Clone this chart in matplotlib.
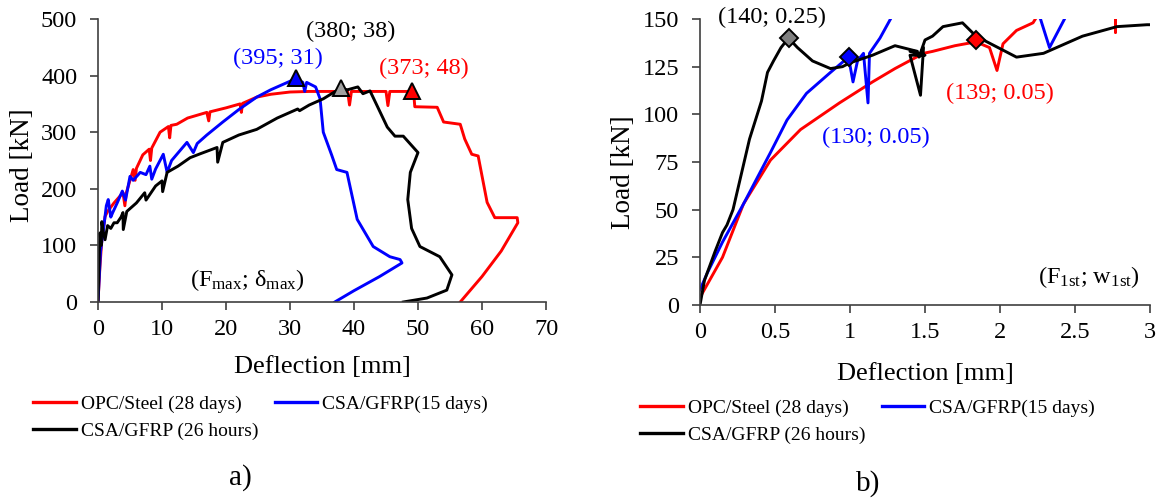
import matplotlib
matplotlib.use("Agg")
import matplotlib.pyplot as plt
from matplotlib.lines import Line2D

plt.rcParams["font.family"] = ["Liberation Serif", "DejaVu Serif"]
plt.rcParams["mathtext.fontset"] = "custom"
plt.rcParams["mathtext.rm"] = "Liberation Serif"
plt.rcParams["mathtext.it"] = "Liberation Serif"
plt.rcParams["font.size"] = 14

# ---- a) full load-deflection curves ----
red_a_x = [0, 0.3, 0.6, 1.1, 1.5, 2.5, 3.9, 4.2, 4.4, 5.5, 5.8, 6.0, 7, 8, 8.2, 8.4, 9.7, 11, 11.2, 11.4,
           12.3, 14, 17, 17.3, 17.5, 20, 22.2, 22.4, 22.6, 24.8, 27, 30, 33, 36, 39.0, 39.3, 39.6, 42, 45,
           45.3, 45.6, 48, 49.3, 49.5, 53, 54, 56.6, 57.3, 58.4, 59.4, 60.8, 62, 65.5, 65.6, 63, 60, 56.6]
red_a_y = [0, 62, 110, 151, 160, 175, 193, 170, 192, 234, 215, 236, 260, 270, 250, 272, 300, 310, 290, 312,
           314, 325, 335, 320, 336, 343, 350, 335, 351, 362, 367, 371, 372, 372, 372, 348, 372, 372, 372,
           347, 372, 372, 372, 345, 344, 318, 314, 288, 261, 258, 176, 149, 149, 140, 90, 45, 0]

blue_a_x = [0, 0.4, 0.8, 1.3, 1.6, 2.0, 2.3, 3.0, 3.8, 4.3, 5.0, 5.5, 6.6, 7.5, 8.1, 8.4, 9.0, 10.2, 10.8,
            11.5, 13.0, 13.9, 14.9, 15.5, 17, 19.5, 22, 24.8, 27, 30, 30.8, 32.0, 32.3, 32.6, 34, 34.7, 35.2,
            36.5, 37.3, 38.9, 40.5, 43, 45.6, 47.2, 47.5, 44, 40, 37]
blue_a_y = [0, 90, 123, 170, 181, 150, 158, 175, 196, 180, 222, 215, 229, 225, 240, 217, 235, 261, 229,
            250, 270, 282, 264, 280, 295, 318, 340, 362, 375, 390, 395, 388, 372, 388, 380, 359, 300,
            260, 234, 229, 146, 98, 80, 75, 69, 45, 20, 0]

black_a_x = [0, 0.2, 0.3, 0.5, 0.6, 0.8, 1.1, 1.5, 2, 2.5, 3, 3.6, 3.9, 3.95, 4.5, 6, 7.3, 7.5, 9, 10, 10.1,
             10.8, 12.5, 14.4, 16, 18.6, 18.7, 19.5, 22, 24.8, 28, 31.2, 31.5, 33, 35.2, 37.8, 39, 40.6,
             41.4, 42.5, 43.6, 45.2, 46.4, 47.7, 50, 48.8, 48.4, 49, 50.3, 53.4, 55.3, 54.5, 51.4, 47.7]
black_a_y = [0, 80, 122, 100, 142, 125, 110, 135, 130, 140, 140, 150, 158, 128, 160, 175, 193, 180, 205,
             214, 195, 229, 240, 255, 262, 273, 247, 282, 295, 305, 325, 341, 338, 348, 359, 377, 375,
             380, 368, 373, 347, 309, 293, 293, 264, 229, 181, 130, 98, 80, 48, 21, 7, 0]

peak_x = [31, 38, 49]
peak_y = [395, 378, 373]
peak_labels = ["(395; 31)", "(380; 38)", "(373; 48)"]

# ---- b) first crack zoom ----
red_b_x = [0, 0.15, 0.29, 0.47, 0.67, 0.93, 1.15, 1.3, 1.49, 1.55, 1.7, 1.84, 1.93, 1.98, 2.02, 2.11,
           2.22, 2.3, 2.77, 2.77, 2.77, 2.85]
red_b_y = [4, 25, 53, 76, 92, 106, 117, 124, 132, 133, 136, 138, 135, 123, 137, 144, 148, 158, 158, 143,
           158, 158]

blue_b_x = [0, 0.05, 0.15, 0.29, 0.47, 0.58, 0.71, 0.87, 0.99, 1.02, 1.05, 1.09, 1.12, 1.13, 1.2, 1.27,
            1.35, 2.2, 2.27, 2.33, 2.43, 2.5]
blue_b_y = [8, 17, 33, 53, 80, 97, 111, 122, 130, 117, 128, 132, 106, 132, 140, 150, 162, 162, 150, 135,
            150, 162]

black_b_x = [0, 0.03, 0.1, 0.15, 0.18, 0.22, 0.33, 0.41, 0.45, 0.49, 0.54, 0.59, 0.65, 0.75, 0.87, 0.95,
             1.0, 1.15, 1.3, 1.45, 1.40, 1.50, 1.40, 1.47, 1.49, 1.46, 1.5, 1.55, 1.62, 1.75, 1.84, 2.11,
             2.29, 2.55, 2.78, 2.98, 3.0]
black_b_y = [0, 13, 28, 38, 42, 50, 87, 107, 122, 128, 135, 140, 135, 128, 124, 125, 127, 131, 136, 133,
             133, 131, 131, 110, 135, 130, 139, 141, 146, 148, 141, 130, 132, 141, 146, 147, 147]

crack_x = [0.59, 0.99, 1.84]
crack_y = [140, 130, 139]
crack_labels = ["(140; 0.25)", "(130; 0.05)", "(139; 0.05)"]

series_names = ["OPC/Steel (28 days)", "CSA/GFRP(15 days)", "CSA/GFRP (26 hours)"]
colors = ["#ff0000", "#0000ff", "#000000"]
marker_colors = ["#0000ff", "#a0a0a0", "#ff0000"]
diamond_colors = ["#808080", "#0000ff", "#ff0000"]

W, H = 1171, 499
fig = plt.figure(figsize=(W / 100, H / 100), dpi=100)
ax1 = fig.add_axes([98 / W, 1 - 302 / H, 448 / W, 283 / H])
ax2 = fig.add_axes([700 / W, 1 - 305 / H, 450 / W, 286 / H])

lw = 2.1
ax1.plot(red_a_x, red_a_y, color=colors[0], lw=lw)
ax1.plot(blue_a_x, blue_a_y, color=colors[1], lw=lw)
ax1.plot(black_a_x, black_a_y, color=colors[2], lw=lw)
for x, y, c in zip(peak_x, peak_y, marker_colors):
    ax1.plot(x, y, marker="^", ms=11, mfc=c, mec="black", mew=1.4, zorder=5)

ax2.plot(red_b_x, red_b_y, color=colors[0], lw=lw)
ax2.plot(blue_b_x, blue_b_y, color=colors[1], lw=lw)
ax2.plot(black_b_x, black_b_y, color=colors[2], lw=lw)
for x, y, c in zip(crack_x, crack_y, diamond_colors):
    ax2.plot(x, y, marker="D", ms=9, mfc=c, mec="black", mew=1.4, zorder=5)

ax1.set_xlim(0, 70)
ax1.set_ylim(0, 500)
ax1.set_xticks(range(0, 71, 10))
ax1.set_yticks(range(0, 501, 100))
ax2.set_xlim(0, 3)
ax2.set_ylim(0, 150)
ax2.set_xticks([0, 0.5, 1, 1.5, 2, 2.5, 3])
ax2.set_xticklabels(["0", "0.5", "1", "1.5", "2", "2.5", "3"])
ax2.set_yticks(range(0, 151, 25))

for ax in (ax1, ax2):
    ax.spines["top"].set_visible(False)
    ax.spines["right"].set_visible(False)
    for s in ("left", "bottom"):
        ax.spines[s].set_color("#404040")
        ax.spines[s].set_linewidth(1.2)
    ax.tick_params(direction="out", length=6, width=1.2, color="#404040", labelsize=17.5)
    ax.tick_params(axis="y", pad=9)
    ax.tick_params(axis="x", pad=6)
    ax.set_xlabel("Deflection [mm]", fontsize=19)
    ax.set_ylabel("Load [kN]", fontsize=19.5)

ax1.xaxis.set_label_coords(0.5, (302 - 356) / 283)
ax1.yaxis.set_label_coords((35 - 98) / 448, 0.484)
ax2.xaxis.set_label_coords(0.5, (305 - 363) / 286)
ax2.yaxis.set_label_coords((636 - 700) / 450, 0.465)

# annotations
fs = 17.5
ax1.text(28.1, 430, peak_labels[0], color="#0000ff", ha="center", va="center", fontsize=fs)
ax1.text(39.5, 478, peak_labels[1], color="black", ha="center", va="center", fontsize=fs, clip_on=False)
ax1.text(50.9, 412, peak_labels[2], color="#ff0000", ha="center", va="center", fontsize=fs)
ax1.text(23.4, 39, r"(F$_{\mathrm{max}}$; δ$_{\mathrm{max}}$)", ha="center", va="center", fontsize=fs)

ax2.text(0.48, 151, crack_labels[0], color="black", ha="center", va="center", fontsize=fs, clip_on=False)
ax2.text(1.17, 88, crack_labels[1], color="#0000ff", ha="center", va="center", fontsize=fs)
ax2.text(2.0, 111, crack_labels[2], color="#ff0000", ha="center", va="center", fontsize=fs)
ax2.text(2.59, 14.7, r"(F$_{\mathrm{1st}}$; w$_{\mathrm{1st}}$)", ha="center", va="center", fontsize=fs)

# legends (row order: red, blue / black)
handles = [Line2D([], [], color=c, lw=2.4) for c in colors]
order = [0, 2, 1]
for x0, y0 in ((33, 395), (640, 399)):
    fig.legend([handles[i] for i in order], [series_names[i] for i in order],
               loc="upper left", bbox_to_anchor=(x0 / W, 1 - y0 / H), ncol=2,
               frameon=False, fontsize=14, handlelength=2.2, handletextpad=0.25,
               columnspacing=0.85, labelspacing=0.5, borderpad=0, borderaxespad=0)

fig.text(240 / W, 1 - 478 / H, "a)", ha="center", va="center", fontsize=21)
fig.text(868 / W, 1 - 484 / H, "b)", ha="center", va="center", fontsize=21)

fig.savefig("out.png", dpi=100)
